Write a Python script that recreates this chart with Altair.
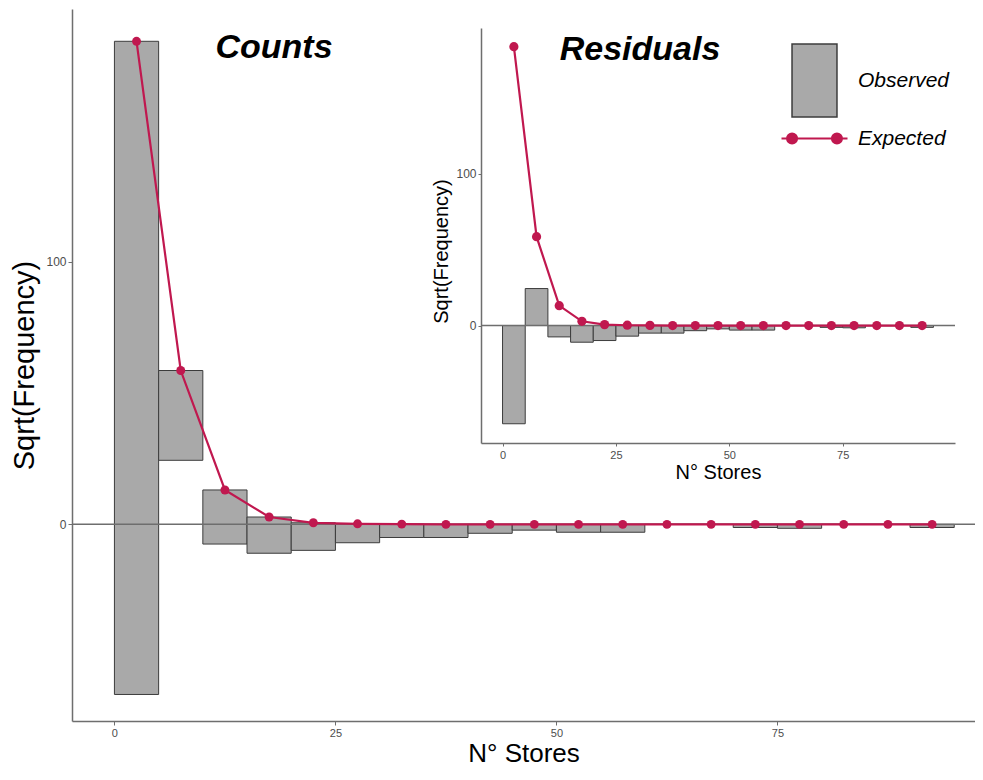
import altair as alt
import pandas as pd

# ---- data (hanging rootogram, bins of width 5) ----
bin_start = [0, 5, 10, 15, 20, 25, 30, 35, 40, 45, 50, 55, 60, 65, 70, 75, 80, 85, 90]
bin_end = [5, 10, 15, 20, 25, 30, 35, 40, 45, 50, 55, 60, 65, 70, 75, 80, 85, 90, 95]
bin_mid = [2.5, 7.5, 12.5, 17.5, 22.5, 27.5, 32.5, 37.5, 42.5, 47.5, 52.5, 57.5,
           62.5, 67.5, 72.5, 77.5, 82.5, 87.5, 92.5]
expected = [184.0, 58.6, 13.1, 2.8, 0.6, 0.2, 0.1, 0.0, 0.0, 0.0, 0.0, 0.0,
            0.0, 0.0, 0.0, 0.0, 0.0, 0.0, 0.0]
residual = [-64.8, 24.4, -7.5, -11.0, -9.9, -7.0, -5.0, -5.0, -3.4, -2.2, -3.0, -3.0,
            0.0, 0.0, -1.2, -1.5, 0.0, 0.0, -1.2]
series = ["Observed", "Expected"]

df = pd.DataFrame({"start": bin_start, "end": bin_end, "mid": bin_mid,
                   "expected": expected, "residual": residual})
df["obs"] = series[0]
df["exp"] = series[1]
one = pd.DataFrame({"k": [0]})

GREY = "#A9A9A9"
EDGE = "#3c3c3c"
RED = "#C0184F"
AXC = "#6e6e6e"
FONT = "Liberation Sans"

PLOT_H = 712

# ---------------- main panel: Counts ----------------
xs_main = alt.Scale(domain=[-4.8, 97.35], nice=False, zero=False)
ys_main = alt.Scale(domain=[-74.9, 196.3], nice=False, zero=False)
XT = "N° Stores"
YT = "Sqrt(Frequency)"

main_x_axis = alt.Axis(values=[0, 25, 50, 75], title=XT, titleFontSize=26,
                       titleFontWeight="normal", titlePadding=2, labelFontSize=11,
                       labelPadding=2)
main_y_axis = alt.Axis(values=[0, 100], title=YT, titleFontSize=29,
                       titleFontWeight="normal", titlePadding=6, labelFontSize=12,
                       labelPadding=2)

bars = alt.Chart(df).mark_bar(fill=GREY, stroke=EDGE, strokeWidth=1).encode(
    x=alt.X("start:Q", scale=xs_main, axis=main_x_axis),
    x2="end:Q",
    y=alt.Y("expected:Q", scale=ys_main, axis=main_y_axis),
    y2="residual:Q",
)
zero_main = alt.Chart(one).mark_rule(color=AXC, strokeWidth=1.5).encode(
    y=alt.datum(0)
)
line_main = alt.Chart(df).mark_line(color=RED, strokeWidth=2.2).encode(
    x=alt.X("mid:Q", title=XT), y=alt.Y("expected:Q", title=YT)
)
pts_main = alt.Chart(df).mark_circle(color=RED, size=80, opacity=1).encode(
    x=alt.X("mid:Q", title=XT), y=alt.Y("expected:Q", title=YT)
)
txt_counts = alt.Chart(one).mark_text(
    text="Counts", font=FONT, fontSize=34, fontWeight="bold", fontStyle="italic",
    align="center", baseline="alphabetic", color="black"
).encode(x=alt.value(202), y=alt.value(49))
txt_resid = alt.Chart(one).mark_text(
    text="Residuals", font=FONT, fontSize=34, fontWeight="bold", fontStyle="italic",
    align="center", baseline="alphabetic", color="black"
).encode(x=alt.value(568), y=alt.value(51))

main = alt.layer(bars, zero_main, line_main, pts_main, txt_counts, txt_resid)

# ---------------- inset panel: Residuals ----------------
xs_in = alt.Scale(domain=[-4.75, 99.75], range=[409, 883], nice=False, zero=False)
ys_in = alt.Scale(domain=[-77.5, 196.3], range=[434, 19], nice=False, zero=False)

in_x_axis = alt.Axis(values=[0, 25, 50, 75], title=XT, orient="bottom",
                     offset=-(PLOT_H - 434),
                     titleFontSize=20, titleFontWeight="normal", titlePadding=2,
                     labelFontSize=11, labelPadding=3, tickSize=3)
in_y_axis = alt.Axis(values=[0, 100], title=YT, orient="left", offset=-409,
                     titleFontSize=20, titleFontWeight="normal", titlePadding=4,
                     titleY=242, labelFontSize=12, labelPadding=2, tickSize=3)

OBS_PATH = "M-0.616,-1L0.616,-1L0.616,1L-0.616,1Z"
EXP_PATH = ("M-1,0L1,0"
            "M-0.83,0A0.15,0.15,0,1,0,-0.53,0A0.15,0.15,0,1,0,-0.83,0Z"
            "M0.53,0A0.15,0.15,0,1,0,0.83,0A0.15,0.15,0,1,0,0.53,0Z")

bars_in = alt.Chart(df).mark_bar(stroke=EDGE, strokeWidth=1).encode(
    x=alt.X("start:Q", scale=xs_in, axis=in_x_axis),
    x2="end:Q",
    y=alt.Y("residual:Q", scale=ys_in, axis=in_y_axis),
    y2=alt.datum(0),
    fill=alt.Fill("obs:N", scale=alt.Scale(domain=[series[0]], range=[GREY]),
                  title=None,
                  legend=alt.Legend(orient="none", legendX=705, legendY=34,
                                    symbolType=OBS_PATH, symbolSize=5329,
                                    symbolStrokeColor=EDGE, symbolStrokeWidth=1.5,
                                    labelFont=FONT, labelFontSize=21,
                                    labelFontStyle="italic", labelColor="black",
                                    labelOffset=6, padding=0)),
)
zero_in = alt.Chart(one).mark_rule(color=AXC, strokeWidth=1.5).encode(
    x=alt.datum(-4.75), x2=alt.datum(99.75), y=alt.datum(0)
)
line_in = alt.Chart(df).mark_line(color=RED, strokeWidth=2.2).encode(
    x=alt.X("mid:Q", title=XT), y=alt.Y("expected:Q", title=YT)
)
pts_in = alt.Chart(df).mark_circle(size=85, opacity=1).encode(
    x=alt.X("mid:Q", title=XT), y=alt.Y("expected:Q", title=YT),
    color=alt.Color("exp:N", scale=alt.Scale(domain=[series[1]], range=[RED]),
                    title=None,
                    legend=alt.Legend(orient="none", legendX=708, legendY=95,
                                      symbolType=EXP_PATH, symbolSize=4356,
                                      symbolStrokeColor=RED, symbolStrokeWidth=2.2,
                                      symbolFillColor=RED,
                                      labelFont=FONT, labelFontSize=21,
                                      labelFontStyle="italic", labelColor="black",
                                      labelOffset=9, padding=0)),
)

inset = alt.layer(bars_in, zero_in, line_in, pts_in)

chart = alt.layer(main, inset).resolve_scale(
    x="independent", y="independent"
).properties(
    width=903, height=PLOT_H,
    padding={"left": 64, "top": 1, "right": 0, "bottom": 763 - PLOT_H},
    autosize=alt.AutoSizeParams(type="none"),
).configure_view(strokeWidth=0).configure_axis(
    grid=False, domainColor=AXC, domainWidth=1.5, tickColor=AXC, tickSize=4,
    labelColor="#4d4d4d", labelFont=FONT, titleFont=FONT, titleColor="black",
)

chart.save("out.html", embed_options={"renderer": "svg", "actions": False})
